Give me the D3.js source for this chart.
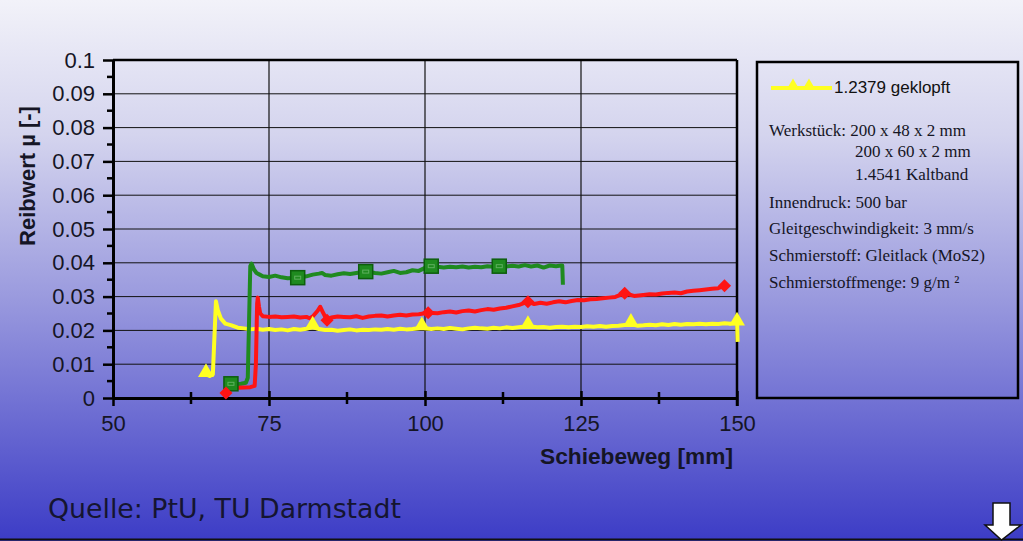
<!DOCTYPE html>
<html><head><meta charset="utf-8">
<script src="https://cdn.jsdelivr.net/npm/d3@7/dist/d3.min.js"></script>
<style>html,body{margin:0;padding:0;overflow:hidden;background:#fff}</style>
</head><body><svg id="c" width="1023" height="541"></svg>
<script>
// ---------- data ----------
const xTicks = [50, 75, 100, 125, 150];
const xMinorTicks = [62.5, 87.5, 112.5, 137.5];
const xGrid = [75, 100, 125];
const yTicks = [0, 0.01, 0.02, 0.03, 0.04, 0.05, 0.06, 0.07, 0.08, 0.09, 0.1];
const yTickLabels = ["0", "0.01", "0.02", "0.03", "0.04", "0.05", "0.06", "0.07", "0.08", "0.09", "0.1"];
const yMinorTicks = [0.005, 0.015, 0.025, 0.035, 0.045, 0.055, 0.065, 0.075, 0.085, 0.095];

const yellowX = [64.9,65.5,66.0,66.3,66.5,66.8,67.3,68,69,70,71,72,73,74,75,76,77,78,79,80,81,82,83,84,85,86,87,88,89,90,91,92,93,94,95,96,97,98,99.5,101,102,103,104,105,106,107,108,109,110,111,112,113,114,115,116.5,118,119,120,121,122,123,124,125,126,127,128,129,130,131,133,134,135,136,137,138,139,140,141,142,143,144,145,146,147,148,149,149.8,150,150.1];
const yellowY = [0.007,0.0065,0.007,0.020,0.0286,0.026,0.0235,0.022,0.0215,0.0208,0.0206,0.0203,0.0205,0.0202,0.0204,0.0201,0.0203,0.0200,0.0204,0.0202,0.0205,0.0210,0.0204,0.0201,0.0202,0.0199,0.0201,0.0203,0.0200,0.0202,0.0201,0.0203,0.0202,0.0204,0.0202,0.0205,0.0203,0.0204,0.0208,0.0204,0.0206,0.0204,0.0207,0.0205,0.0203,0.0206,0.0208,0.0206,0.0205,0.0208,0.0206,0.0209,0.0207,0.0209,0.0212,0.0209,0.0210,0.0208,0.0210,0.0211,0.0209,0.0211,0.0210,0.0212,0.0211,0.0213,0.0211,0.0213,0.0214,0.0218,0.0214,0.0215,0.0217,0.0215,0.0218,0.0216,0.0219,0.0217,0.0219,0.0218,0.0220,0.0218,0.0220,0.0219,0.0221,0.0220,0.0222,0.0236,0.0166];
const yellowMarkX = [64.9, 82, 99.5, 116.5, 133, 150];
const yellowMarkY = [0.007, 0.021, 0.0208, 0.0212, 0.0218, 0.0222];

const greenX = [68.9,69.5,70.5,71.3,71.6,72.0,72.2,72.6,73,73.5,74,75,76,77,78,79.6,81,82,83,83.5,84,85,86,87,88,89,90.5,92,93,94,95,96,97,98,99,100,101,102,103,104,105,106,107,108,109,110,111,112,113,114,115,116,117,118,119,120,121,121.8,122,122.1];
const greenY = [0.0042,0.004,0.0042,0.0045,0.006,0.039,0.0398,0.038,0.037,0.0365,0.036,0.0358,0.0362,0.0357,0.0354,0.0356,0.036,0.0365,0.0368,0.037,0.0364,0.0362,0.0366,0.0369,0.0367,0.037,0.0374,0.037,0.0368,0.0372,0.0376,0.037,0.0372,0.0378,0.0376,0.0385,0.039,0.0388,0.0386,0.0388,0.0387,0.0389,0.0386,0.0388,0.0387,0.039,0.0388,0.039,0.0389,0.0391,0.0389,0.0393,0.0389,0.0392,0.0386,0.0392,0.039,0.0392,0.0392,0.0335];
const greenMarkX = [68.9, 79.6, 90.5, 101, 111.9];
const greenMarkY = [0.0042, 0.0356, 0.0374, 0.039, 0.039];

const redX = [68.1,68.5,69,70,71,72,72.7,72.9,73.1,73.2,73.4,73.6,74,75,76,77,78,79,80,81,81.5,82,82.8,83.2,83.6,84.3,85,86,87,88,89,90,91,92,93,94,95,96,97,98,99,100.5,102,103,104,105,106,107,108,109,110,111,112,113,114,115,116.5,117.5,118.5,119.5,120.5,121.5,122.5,123.5,124.5,125.5,126.5,127.5,128.5,129.5,130.5,132,133.5,135,136,137,138,139,140,141,142,143,144,145,146,147,148];
const redY = [0.0015,0.002,0.0028,0.003,0.0031,0.0032,0.0036,0.01,0.028,0.0297,0.027,0.025,0.0242,0.024,0.0241,0.0239,0.024,0.0241,0.0238,0.024,0.0236,0.0241,0.0258,0.027,0.0255,0.023,0.0238,0.0241,0.024,0.0239,0.0242,0.0237,0.0241,0.0243,0.0244,0.0241,0.0244,0.0246,0.0244,0.0247,0.0248,0.0252,0.0251,0.0254,0.0256,0.0253,0.0257,0.0259,0.0256,0.026,0.0263,0.0261,0.0265,0.0267,0.0271,0.0275,0.0285,0.0278,0.0282,0.0279,0.0283,0.0286,0.0283,0.0287,0.029,0.0289,0.0292,0.0293,0.0295,0.0297,0.0299,0.031,0.0302,0.0305,0.0307,0.0306,0.0309,0.0311,0.0312,0.031,0.0315,0.0317,0.0319,0.0321,0.0323,0.0325,0.0332];
const redMarkX = [68.1, 84.3, 100.5, 116.5, 132, 148];
const redMarkY = [0.0015, 0.023, 0.0252, 0.0285, 0.031, 0.0332];

const legendLabel = "1.2379 geklopft";
const infoLines = ["Werkstück: 200 x 48 x 2 mm", "200 x 60 x 2 mm", "1.4541 Kaltband", "Innendruck: 500 bar", "Gleitgeschwindigkeit: 3 mm/s", "Schmierstoff: Gleitlack (MoS2)", "Schmierstoffmenge: 9 g/m ²"];
const yTitle = "Reibwert µ [-]";
const xTitle = "Schiebeweg [mm]";
const source = "Quelle: PtU, TU Darmstadt";

// ---------- drawing ----------
const svg = d3.select("#c");
const defs = svg.append("defs");
const grad = defs.append("linearGradient").attr("id", "bg").attr("x1", 0).attr("y1", 0).attr("x2", 0).attr("y2", 1);
grad.append("stop").attr("offset", "0%").attr("stop-color", "#f2f2f9");
grad.append("stop").attr("offset", "25%").attr("stop-color", "#d4d4ee");
grad.append("stop").attr("offset", "55%").attr("stop-color", "#9a9ade");
grad.append("stop").attr("offset", "100%").attr("stop-color", "#3c3cc6");
svg.append("rect").attr("width", 1023).attr("height", 541).attr("fill", "url(#bg)");
svg.append("line").attr("x1", 0).attr("x2", 1023).attr("y1", 539.5).attr("y2", 539.5).attr("stroke", "#111").attr("stroke-width", 2);

const x = d3.scaleLinear().domain([50, 150]).range([113, 737]);
const y = d3.scaleLinear().domain([0, 0.1]).range([398, 60]);
const sans = "Liberation Sans, Arial, sans-serif";

// grid
const g = svg.append("g");
g.selectAll(".hg").data(yTicks.slice(1, -1)).join("line")
  .attr("x1", x(50)).attr("x2", x(150)).attr("y1", d => y(d)).attr("y2", d => y(d))
  .attr("stroke", "#111").attr("stroke-width", 1);
g.selectAll(".vg").data(xGrid).join("line")
  .attr("x1", d => x(d)).attr("x2", d => x(d)).attr("y1", y(0)).attr("y2", y(0.1))
  .attr("stroke", "#111").attr("stroke-width", 1.2);
// frame top and right
g.append("line").attr("x1", x(50)).attr("x2", x(150)).attr("y1", y(0.1)).attr("y2", y(0.1)).attr("stroke", "#000").attr("stroke-width", 2.5);
g.append("line").attr("x1", x(150)).attr("x2", x(150)).attr("y1", y(0.1)).attr("y2", y(0) + 8).attr("stroke", "#000").attr("stroke-width", 2.5);

// y axis
const yAxis = d3.axisLeft(y).tickValues(yTicks).tickFormat((d, i) => yTickLabels[i]).tickSize(10).tickSizeOuter(0).tickPadding(8);
const ya = svg.append("g").attr("transform", `translate(${x(50)},0)`).call(yAxis);
ya.select(".domain").attr("stroke", "#000").attr("stroke-width", 3);
ya.selectAll(".tick line").attr("stroke", "#000").attr("stroke-width", 2.5);
ya.selectAll(".tick text").attr("font-family", sans).attr("font-size", 22).attr("fill", "#151525");
ya.selectAll(".minor").data(yMinorTicks).join("line").attr("class", "minor")
  .attr("x1", -6).attr("x2", 0).attr("y1", d => y(d)).attr("y2", d => y(d)).attr("stroke", "#000").attr("stroke-width", 2.5);

// x axis
const xAxis = d3.axisBottom(x).tickValues(xTicks).tickSize(8).tickSizeOuter(0).tickPadding(9);
const xa = svg.append("g").attr("transform", `translate(0,${y(0)})`).call(xAxis);
xa.select(".domain").attr("stroke", "#000").attr("stroke-width", 3);
xa.selectAll(".tick line").attr("stroke", "#000").attr("stroke-width", 2.5).attr("y1", -7);
xa.selectAll(".tick text").attr("font-family", sans).attr("font-size", 22).attr("fill", "#151525");
xa.selectAll(".minor").data(xMinorTicks).join("line").attr("class", "minor")
  .attr("x1", d => x(d)).attr("x2", d => x(d)).attr("y1", -6).attr("y2", 6).attr("stroke", "#000").attr("stroke-width", 2.5);

// titles
svg.append("text").attr("transform", `translate(35,176) rotate(-90)`).attr("text-anchor", "middle")
  .attr("font-family", sans).attr("font-weight", "bold").attr("font-size", 22).attr("fill", "#151525").text(yTitle);
svg.append("text").attr("x", 733).attr("y", 464).attr("text-anchor", "end")
  .attr("font-family", sans).attr("font-weight", "bold").attr("font-size", 22).attr("textLength", 193).attr("lengthAdjust", "spacingAndGlyphs")
  .attr("fill", "#151525").text(xTitle);
svg.append("text").attr("x", 48).attr("y", 518).attr("textLength", 353).attr("lengthAdjust", "spacingAndGlyphs")
  .attr("font-family", "DejaVu Sans, Verdana, sans-serif").attr("font-size", 27).attr("fill", "#151530").text(source);

// series
const line = d3.line().x(d => x(d[0])).y(d => y(d[1]));
function drawSeries(xs, ys, color) {
  svg.append("path").datum(xs.map((v, i) => [v, ys[i]])).attr("d", line)
    .attr("fill", "none").attr("stroke", color).attr("stroke-width", 4).attr("stroke-linejoin", "round");
}
drawSeries(yellowX, yellowY, "#ffff22");
drawSeries(greenX, greenY, "#1f8a1f");
drawSeries(redX, redY, "#ff1414");

const tri = d3.symbol().type(d3.symbolTriangle).size(110);
svg.selectAll(".ym").data(yellowMarkX.map((v, i) => [v, yellowMarkY[i]])).join("path")
  .attr("transform", d => `translate(${x(d[0])},${y(d[1]) - 2})`).attr("d", tri).attr("fill", "#ffff22");
svg.selectAll(".gm").data(greenMarkX.map((v, i) => [v, greenMarkY[i]])).join("rect")
  .attr("x", d => x(d[0]) - 7).attr("y", d => y(d[1]) - 7).attr("width", 14).attr("height", 14)
  .attr("fill", "#1f8a1f").attr("stroke", "#0d5e0d").attr("stroke-width", 1.5);
svg.selectAll(".gm2").data(greenMarkX.map((v, i) => [v, greenMarkY[i]])).join("rect")
  .attr("x", d => x(d[0]) - 3).attr("y", d => y(d[1]) - 1.5).attr("width", 6).attr("height", 3)
  .attr("fill", "none").attr("stroke", "#5fb05f").attr("stroke-width", 1);
const dia = d3.symbol().type(d3.symbolSquare).size(85);
svg.selectAll(".rm").data(redMarkX.map((v, i) => [v, redMarkY[i]])).join("path")
  .attr("transform", d => `translate(${x(d[0])},${y(d[1])}) rotate(45)`).attr("d", dia).attr("fill", "#ff1414");

// legend box
svg.append("rect").attr("x", 757).attr("y", 62).attr("width", 261).attr("height", 336)
  .attr("fill", "none").attr("stroke", "#000").attr("stroke-width", 2.5);
svg.append("line").attr("x1", 771).attr("x2", 832).attr("y1", 88).attr("y2", 88).attr("stroke", "#ffff22").attr("stroke-width", 4);
const triS = d3.symbol().type(d3.symbolTriangle).size(75);
svg.selectAll(".lm").data([793, 809]).join("path").attr("transform", d => `translate(${d},86)`).attr("d", triS).attr("fill", "#ffff22");
svg.append("text").attr("x", 834).attr("y", 93).attr("font-family", sans).attr("font-size", 17).attr("fill", "#111").text(legendLabel);
const infoPos = [[769, 136], [855, 157], [855, 180], [769, 208], [769, 234], [769, 261], [769, 288]];
svg.selectAll(".info").data(infoLines).join("text")
  .attr("x", (d, i) => infoPos[i][0]).attr("y", (d, i) => infoPos[i][1])
  .attr("font-family", "Liberation Serif, Times New Roman, serif").attr("font-size", 17).attr("fill", "#151525").text(d => d);

// arrow
svg.append("path").attr("d", "M993,503 L1010,503 L1010,525 L1021,525 L1001.5,540 L985,525 L993,525 Z")
  .attr("fill", "#fff").attr("stroke", "#111").attr("stroke-width", 1.5);
</script></body></html>
